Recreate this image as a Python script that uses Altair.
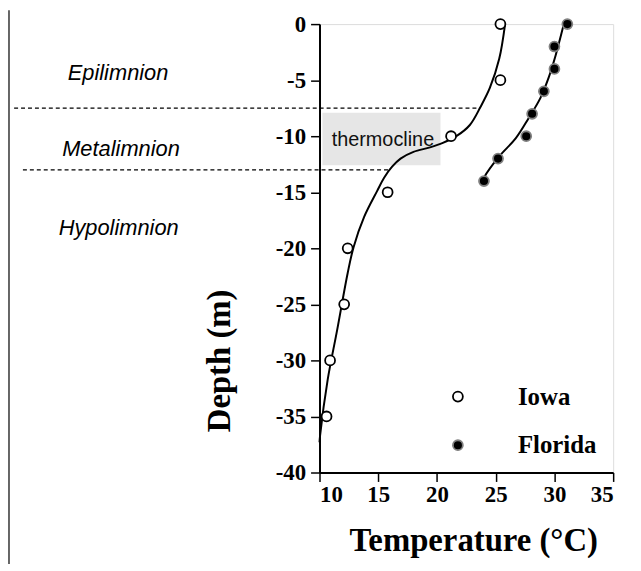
import altair as alt
import pandas as pd

# Measured points
iowa_depth = [0, -5, -10, -15, -20, -25, -30, -35]
iowa_temp = [25.4, 25.4, 21.2, 15.8, 12.4, 12.1, 10.9, 10.6]
florida_depth = [0, -2, -4, -6, -8, -10, -12, -14]
florida_temp = [31.1, 30.0, 30.0, 29.1, 28.1, 27.6, 25.2, 24.0]

# Fitted curves
iowa_fit_depth = [0, -3.1, -5.7, -7.4, -9.0, -10.0, -10.6, -11.0, -11.4, -12.0,
                  -12.7, -13.7, -14.9, -17.2, -19.9, -22.2, -27.3, -31.7, -36.7, -37.3]
iowa_fit_temp = [25.8, 25.3, 24.5, 23.7, 22.8, 21.65, 20.5, 19.4, 18.0, 16.9,
                 16.2, 15.5, 14.9, 13.8, 12.9, 12.4, 11.5, 10.7, 10.05, 10.0]
florida_fit_depth = [0, -2.8, -4.8, -6.6, -8.4, -10.2, -11.8, -13.7, -14.0]
florida_fit_temp = [30.8, 30.1, 29.5, 28.8, 27.8, 26.7, 25.3, 24.0, 23.9]

# Layer boundaries (dashed lines)
boundary_depth = [-7.5, -13.0]
boundary_from = [-16.0, -15.25]
boundary_to = [23.68, 15.9]

# Zone labels
zone_names = ["Epilimnion", "Metalimnion", "Hypolimnion"]
zone_temp = [-7.15, -6.9, -7.1]
zone_depth = [-5.0, -11.77, -18.85]

# Thermocline box
box_temp = [10.25, 20.3]
box_depth = [-7.9, -12.6]
box_label = "thermocline"
box_label_temp = 15.4
box_label_depth = -10.3

sites = ["Iowa", "Florida"]
x_ticks = [10, 15, 20, 25, 30, 35]
y_ticks = [0, -5, -10, -15, -20, -25, -30, -35, -40]

xscale = alt.Scale(domain=[10, 35], nice=False, zero=False)
yscale = alt.Scale(domain=[-40, 0], nice=False, zero=False)

SERIF = "Liberation Serif"

points = pd.DataFrame({
    "temp": iowa_temp + florida_temp,
    "depth": iowa_depth + florida_depth,
    "site": ["Iowa"] * len(iowa_temp) + ["Florida"] * len(florida_temp),
})
fits = pd.DataFrame({
    "temp": iowa_fit_temp + florida_fit_temp,
    "depth": iowa_fit_depth + florida_fit_depth,
    "site": ["Iowa"] * len(iowa_fit_temp) + ["Florida"] * len(florida_fit_temp),
    "idx": list(range(len(iowa_fit_temp))) + list(range(len(florida_fit_temp))),
})
bounds = pd.DataFrame({"depth": boundary_depth, "x1": boundary_from, "x2": boundary_to})
zones = pd.DataFrame({"name": zone_names, "temp": zone_temp, "depth": zone_depth})
box = pd.DataFrame({"t1": [box_temp[0]], "t2": [box_temp[1]],
                    "d1": [box_depth[0]], "d2": [box_depth[1]],
                    "label": [box_label], "lt": [box_label_temp], "ld": [box_label_depth]})

common_axis = dict(
    grid=False,
    labelFont=SERIF, labelFontWeight="bold", labelFontSize=23, labelColor="black",
    tickSize=9, tickWidth=1.5, tickColor="black",
    domainColor="black", domainWidth=2,
    titleFont=SERIF, titleFontWeight="bold", titleFontSize=33, titleColor="black",
    titleBaseline="alphabetic", titleAlign="center",
)
x_axis = alt.Axis(title="Temperature (°C)", values=x_ticks, labelPadding=2,
                  titleX=155, titleY=79, **common_axis)
y_axis = alt.Axis(title="Depth (m)", values=y_ticks, labelExpr="'' + datum.value",
                  labelPadding=5, titleX=-91, titleY=339, titleAngle=270, **common_axis)

box_layer = alt.Chart(box).mark_rect(color="#e6e6e6").encode(
    x=alt.X("t1:Q", scale=xscale, axis=x_axis),
    x2="t2:Q",
    y=alt.Y("d1:Q", scale=yscale, axis=y_axis),
    y2="d2:Q",
)
box_text = alt.Chart(box).mark_text(
    font="Liberation Sans", fontSize=20, color="#111111", baseline="middle", align="center",
).encode(
    x=alt.X("lt:Q", scale=xscale, axis=x_axis), y=alt.Y("ld:Q", scale=yscale, axis=y_axis),
    text="label:N"
)
rules = alt.Chart(bounds).mark_rule(color="black", strokeWidth=1.2, strokeDash=[4, 3]).encode(
    x=alt.X("x1:Q", scale=xscale, axis=x_axis), x2="x2:Q",
    y=alt.Y("depth:Q", scale=yscale, axis=y_axis)
)
lines = alt.Chart(fits).mark_line(color="black", strokeWidth=2, interpolate="catmull-rom").encode(
    x=alt.X("temp:Q", scale=xscale, axis=x_axis),
    y=alt.Y("depth:Q", scale=yscale, axis=y_axis),
    detail="site:N",
    order="idx:Q",
)
pts = alt.Chart(points).mark_point(shape="circle", size=100, strokeWidth=1.8,
                                   opacity=1, fillOpacity=1).encode(
    x=alt.X("temp:Q", scale=xscale, axis=x_axis),
    y=alt.Y("depth:Q", scale=yscale, axis=y_axis),
    fill=alt.Fill("site:N", scale=alt.Scale(domain=sites, range=["white", "black"]),
                  legend=alt.Legend(title=None)),
    stroke=alt.Stroke("site:N", scale=alt.Scale(domain=sites, range=["black", "#808080"]),
                      legend=alt.Legend(title=None)),
)
zone_text = alt.Chart(zones).mark_text(
    font="Liberation Sans", fontStyle="italic", fontSize=22, color="black",
    align="center", baseline="alphabetic",
).encode(
    x=alt.X("temp:Q", scale=xscale, axis=x_axis), y=alt.Y("depth:Q", scale=yscale, axis=y_axis),
    text="name:N"
)
frame = alt.Chart(pd.DataFrame({"a": [0]})).mark_rule(color="#333333", strokeWidth=1.5).encode(
    x=alt.value(-313), y=alt.value(-14), y2=alt.value(549)
)

chart = alt.layer(box_layer, box_text, rules, lines, pts, zone_text, frame).properties(
    width=296, height=452,
    autosize=alt.AutoSizeParams(type="none"),
    padding={"left": 314, "top": 14, "right": 20, "bottom": 90},
).configure_view(
    stroke="black", strokeWidth=2
).configure(
    background="white"
).configure_legend(
    orient="none", legendX=127, legendY=363, direction="vertical",
    labelFont=SERIF, labelFontWeight="bold", labelFontSize=25, labelColor="black",
    symbolSize=100, symbolStrokeWidth=1.8, rowPadding=23, labelOffset=48, padding=0,
    symbolType="circle",
)

chart.save("out.html", embed_options={"renderer": "svg", "actions": False})
